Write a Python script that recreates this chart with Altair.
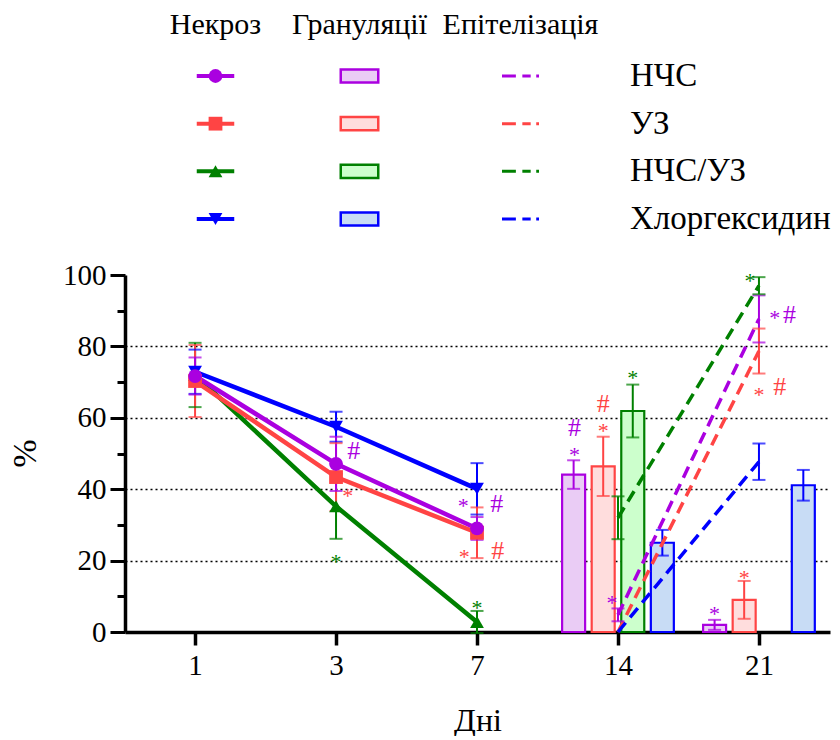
import json
import altair as alt
import pandas as pd

# ---------------- data ----------------
groups = ["НЧС", "УЗ", "НЧС/УЗ", "Хлоргексидин"]
day_labels = ["1", "3", "7", "14", "21"]
headers = ["Некроз", "Грануляції", "Епітелізація"]

necrosis_days = ["1", "3", "7"]
necrosis_mean = {
    "НЧС": [71.7, 47.1, 29.0],
    "УЗ": [70.3, 43.4, 27.8],
    "НЧС/УЗ": [72.0, 35.2, 2.8],
    "Хлоргексидин": [72.9, 57.5, 40.1],
}
necrosis_err = {
    "НЧС": [5.2, 7.6, 3.2],
    "УЗ": [10.1, 9.5, 7.1],
    "НЧС/УЗ": [9.0, 9.1, 3.1],
    "Хлоргексидин": [6.2, 4.2, 7.2],
}

gran_days = ["14", "21"]
gran_mean = {
    "НЧС": [44.1, 2.0],
    "УЗ": [46.4, 9.0],
    "НЧС/УЗ": [61.9, 0.0],
    "Хлоргексидин": [25.0, 41.1],
}
gran_err = {
    "НЧС": [4.0, 1.4],
    "УЗ": [8.3, 5.3],
    "НЧС/УЗ": [7.4, 0.0],
    "Хлоргексидин": [3.6, 4.3],
}

epi_days = ["14", "21"]
epi_mean = {
    "НЧС": [4.8, 87.7],
    "УЗ": [0.0, 78.7],
    "НЧС/УЗ": [32.0, 97.0],
    "Хлоргексидин": [0.0, 47.7],
}
epi_err = {
    "НЧС": [1.8, 6.6],
    "УЗ": [0.0, 6.3],
    "НЧС/УЗ": [6.0, 2.4],
    "Хлоргексидин": [0.0, 5.1],
}

# significance marks: day, series, text, level (%), side shift (px)
ann_day = ["3", "3", "3", "7", "7", "7", "7", "7",
           "14", "14", "14", "14", "14", "14",
           "21", "21", "21", "21", "21", "21", "21"]
ann_group = ["НЧС", "УЗ", "НЧС/УЗ", "НЧС", "НЧС", "УЗ", "УЗ", "НЧС/УЗ",
             "НЧС", "НЧС", "УЗ", "УЗ", "НЧС/УЗ", "НЧС",
             "НЧС", "УЗ", "НЧС/УЗ", "НЧС", "НЧС", "УЗ", "УЗ"]
ann_text = ["#", "*", "*", "*", "#", "*", "#", "*",
            "#", "*", "#", "*", "*", "*",
            "*", "*", "*", "*", "#", "*", "#"]
ann_level = [50.9, 39.9, 21.2, 37.1, 36.0, 22.6, 23.1, 8.4,
             57.3, 51.2, 64.2, 58.0, 72.9, 9.8,
             6.6, 16.8, 100.0, 89.7, 89.2, 68.2, 68.9]
ann_shift = [18, 12, 0, -14, 20, -13, 21, 0,
             -44, -44, -15, -15, 15, -6,
             -45, -15, -9, 16, 31, 0, 21]

# ---------------- style ----------------
FONT = "Liberation Serif"
dark = ["#AA00E0", "#FF4444", "#008000", "#0000FF"]
light = ["#EACCF5", "#FFDDDD", "#CCFFCC", "#C8DCF5"]
shapes = ["circle", "square", "triangle-up", "triangle-down"]

W, H = 705, 357
X_MIN, X_MAX = -0.4615, 4.4685
PX = W / (X_MAX - X_MIN)          # pixels per day slot
SLOT = 30 / PX                    # bar slot spacing in x units


def long_frame(days, mean, err):
    rows = []
    for gi, g in enumerate(groups):
        for j, d in enumerate(days):
            rows.append(dict(group=g, gi=gi, pos=day_labels.index(d),
                             mean=mean[g][j], err=err[g][j]))
    return pd.DataFrame(rows)


nec_df = long_frame(necrosis_days, necrosis_mean, necrosis_err)
nec_draw = nec_df.iloc[::-1].reset_index(drop=True)   # first series drawn on top
gran_df = long_frame(gran_days, gran_mean, gran_err)
epi_df = long_frame(epi_days, epi_mean, epi_err)
ann_df = pd.DataFrame(dict(group=ann_group, txt=ann_text, ya=ann_level,
                           pos=[day_labels.index(d) for d in ann_day],
                           shift=ann_shift))

dark_scale = alt.Scale(domain=groups, range=dark)
light_scale = alt.Scale(domain=groups, range=light)
shape_scale = alt.Scale(domain=groups, range=shapes)
xscale = alt.Scale(domain=[X_MIN, X_MAX], nice=False, zero=False)
yscale = alt.Scale(domain=[0, 100], nice=False)

x_axis = alt.Axis(
    values=[0, 1, 2, 3, 4],
    labelExpr=f"{json.dumps(day_labels)}[datum.value]",
    grid=False, tickSize=13, tickWidth=3.5, tickColor="black",
    domainColor="black", domainWidth=3.5,
    labelFont=FONT, labelFontSize=29, labelColor="black", labelPadding=6,
    titleFont=FONT, titleFontSize=32, titleFontWeight="normal",
    titleColor="black", titlePadding=25,
)
y_axis = alt.Axis(
    values=list(range(0, 101, 10)),
    labelExpr="datum.value % 20 == 0 ? datum.label : ''",
    tickSize={"condition": {"test": "datum.value % 20 == 0", "value": 15}, "value": 8},
    tickWidth=3, tickColor="black",
    domainColor="black", domainWidth=3.5,
    labelFont=FONT, labelFontSize=29, labelColor="black", labelPadding=4,
    grid=True, gridColor="black", gridDash=[2, 3], gridWidth=1.5,
    gridOpacity={"condition": {"test": "datum.value % 20 == 0 && datum.value > 0 && datum.value < 100",
                               "value": 1}, "value": 0},
    titleFont=FONT, titleFontSize=34, titleFontWeight="normal", titleColor="black",
    titleX=-100, titleY=178, titleBaseline="middle", titleAlign="center",
)


def X(field):
    return alt.X(field, type="quantitative", scale=xscale, axis=x_axis, title="Дні")


def Y(field):
    return alt.Y(field, type="quantitative", scale=yscale, axis=y_axis, title="%")


col_dark = alt.Color("group:N", scale=dark_scale, legend=None)

bars = alt.Chart(gran_df).transform_filter("datum.mean > 0").transform_calculate(
    x=f"datum.pos + (datum.gi - 1.5) * {SLOT}", zero="0"
).mark_bar(size=23, strokeWidth=2.2).encode(
    x=X("x"), y=Y("mean"), y2="zero:Q",
    fill=alt.Fill("group:N", scale=light_scale, legend=None),
    stroke=alt.Stroke("group:N", scale=dark_scale, legend=None),
)


def err_layers(df, xexpr):
    base = alt.Chart(df).transform_filter("datum.err > 0").transform_calculate(
        x=xexpr, lo="datum.mean - datum.err", hi="datum.mean + datum.err"
    )
    rule = base.mark_rule(strokeWidth=2).encode(x=X("x"), y=Y("lo"), y2="hi:Q", color=col_dark)
    caps = base.transform_fold(["lo", "hi"], as_=["k", "cap"]).mark_tick(
        orient="horizontal", size=13, thickness=2
    ).encode(x=X("x"), y=Y("cap"), color=col_dark)
    return [rule, caps]


bar_err = err_layers(gran_df, f"datum.pos + (datum.gi - 1.5) * {SLOT}")
nec_err = err_layers(nec_draw, "datum.pos")
epi_err_l = err_layers(epi_df, "datum.pos")

nec_base = alt.Chart(nec_draw).transform_calculate(x="datum.pos")
nec_lines = nec_base.mark_line(strokeWidth=4.5).encode(x=X("x"), y=Y("mean"), color=col_dark)
nec_pts = nec_base.mark_point(filled=True, size=190, opacity=1).encode(
    x=X("x"), y=Y("mean"), color=col_dark,
    shape=alt.Shape("group:N", scale=shape_scale, legend=None),
)

epi_lines = alt.Chart(epi_df).transform_calculate(x="datum.pos").mark_line(
    strokeWidth=3.5, strokeDash=[12, 7]
).encode(x=X("x"), y=Y("mean"), color=col_dark)

ann_base = alt.Chart(ann_df).transform_calculate(x=f"datum.pos + datum.shift / {PX}")
stars = ann_base.transform_filter("datum.txt == '*'").mark_text(
    font=FONT, fontSize=22, baseline="middle", align="center", dy=6
).encode(x=X("x"), y=Y("ya"), text="txt:N", color=col_dark)
hashes = ann_base.transform_filter("datum.txt == '#'").mark_text(
    font=FONT, fontSize=26, baseline="middle", align="center", dy=1
).encode(x=X("x"), y=Y("ya"), text="txt:N", color=col_dark)

main = alt.layer(
    bars, *bar_err, *nec_err, nec_lines, nec_pts, epi_lines, *epi_err_l, stars, hashes
).properties(width=W, height=H)

lx = alt.Scale(domain=[0, 1, 2, 3], range=[90.5, 234.5, 395.5, 505])
ly = alt.Scale(domain=[0, 1, 4], range=[25, 76, 219])
leg_df = pd.DataFrame(dict(group=groups, row=[1, 2, 3, 4]))
hdr_df = pd.DataFrame(dict(txt=headers, col=[0, 1, 2], row=[0, 0, 0]))


def LX():
    return alt.X("col:Q", scale=lx, axis=None)


def LY():
    return alt.Y("row:Q", scale=ly, axis=None)


hdr = alt.Chart(hdr_df).mark_text(font=FONT, fontSize=30, baseline="middle", align="center").encode(
    x=LX(), y=LY(), text="txt:N", color=alt.value("black"))
leg = alt.Chart(leg_df)
sym_line = leg.transform_calculate(col="0").mark_point(
    shape="M-1,0L1,0", size=1406, strokeWidth=4, filled=False, opacity=1
).encode(x=LX(), y=LY(), color=col_dark)
sym_mark = leg.transform_calculate(col="0").mark_point(filled=True, size=190, opacity=1).encode(
    x=LX(), y=LY(), color=col_dark, shape=alt.Shape("group:N", scale=shape_scale, legend=None))
sym_bar = leg.transform_calculate(col="1").mark_point(
    shape="M-1,-0.35L1,-0.35L1,0.35L-1,0.35Z", size=1406, strokeWidth=2.5, opacity=1
).encode(
    x=LX(), y=LY(),
    fill=alt.Fill("group:N", scale=light_scale, legend=None),
    stroke=alt.Stroke("group:N", scale=dark_scale, legend=None),
)
sym_dash = leg.transform_calculate(col="2").mark_point(
    shape="M-1,0L-0.25,0M0.1,0L0.55,0M0.85,0L1,0", size=1369, strokeWidth=3, filled=False, opacity=1
).encode(x=LX(), y=LY(), color=col_dark)
lab = leg.transform_calculate(col="3").mark_text(
    font=FONT, fontSize=33, baseline="middle", align="left"
).encode(x=LX(), y=LY(), text="group:N", color=alt.value("black"))

legend = alt.layer(hdr, sym_line, sym_mark, sym_bar, sym_dash, lab).properties(width=W, height=250)

chart = alt.vconcat(legend, main, spacing=11).resolve_scale(
    x="independent", y="independent", color="independent",
    fill="independent", stroke="independent", shape="independent",
).properties(
    padding={"left": 8, "top": 0, "right": 0, "bottom": 0}
).configure(font=FONT).configure_view(strokeWidth=0, stroke="transparent")

chart.save("out.html", embed_options={"renderer": "svg", "actions": False})
